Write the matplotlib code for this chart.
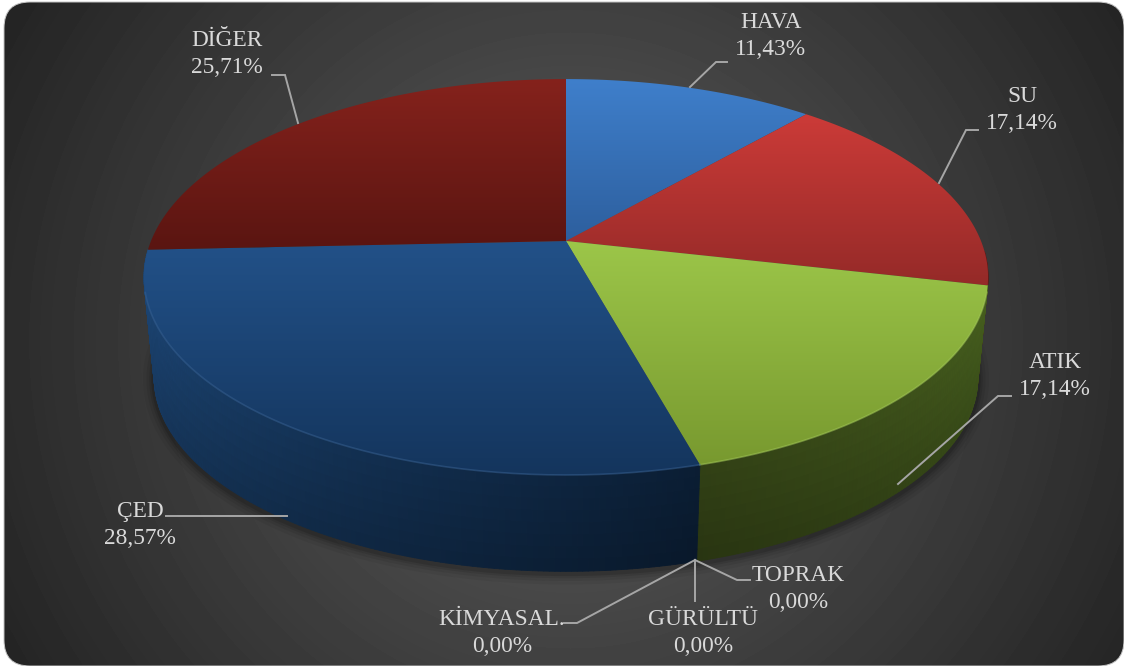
import numpy as np
from matplotlib import pyplot as plt
from matplotlib.colors import to_rgb
from matplotlib.patches import FancyBboxPatch, Polygon
from matplotlib.collections import PolyCollection

names = ["HAVA", "SU", "ATIK", "TOPRAK", "GÜRÜLTÜ", "KİMYASAL.", "ÇED", "DİĞER"]
values = [11.43, 17.14, 17.14, 0.0, 0.0, 0.0, 28.57, 25.71]

# colours of the top face (upper, lower) and of the wall (clockwise start, end)
top_colors = [("#3f7fcb", "#2d5f9e"), ("#cc3b38", "#952a28"), ("#9cc649", "#78992f"),
              ("#888888", "#888888"), ("#888888", "#888888"), ("#888888", "#888888"),
              ("#225188", "#14355d"), ("#85221c", "#5a1511")]
wall_colors = [("#1f3f66", "#1f3f66"), ("#5a1a18", "#5a1a18"), ("#445c1d", "#2f3d14"),
               ("#333333", "#333333"), ("#333333", "#333333"), ("#333333", "#333333"),
               ("#0a1c31", "#1d4777"), ("#4a100d", "#4a100d")]

# label centre in pixels and the leader line of every label
label_pos = [(771, 36), (1022, 110), (1055, 376), (798, 589), (703, 633), (502, 633), (140, 525), (227, 54)]
leaders = [[(727, 62), (716, 62), (690, 87)],
           [(978, 130), (966, 130), (939, 183)],
           [(1011, 396), (998, 396), (898, 484)],
           [(750, 580), (737, 580), (695, 560)],
           [(695, 601), (695, 560)],
           [(564, 623), (577, 623), (695, 560)],
           [(166, 516), (287, 516)],
           [(272, 75), (285, 75), (298, 123)]]

W, H = 1124, 666
CX, CY_TOP, CY_LOW = 566, 241, 342
A_TOP, B_TOP, A_LOW, B_LOW = 415, 191.4, 405, 187.6
K = 0.182


def project(t, r=1.0, low=False):
    # t is the clockwise angle from twelve o'clock, the disc is seen in perspective
    u = r * np.sin(t)
    v = -r * np.cos(t)
    d = 1 - K * v
    if low:
        return CX + A_LOW * u / d, CY_LOW + B_LOW * v / d
    return CX + A_TOP * u / d, CY_TOP + B_TOP * v / d


def mix(c1, c2, f):
    c1 = np.array(to_rgb(c1))
    c2 = np.array(to_rgb(c2))
    return c1 + (c2 - c1) * f


fig = plt.figure(figsize=(W / 100, H / 100), dpi=100, facecolor="white")
ax = fig.add_axes([0, 0, 1, 1])

# panel with the radial background
yy, xx = np.mgrid[0:H, 0:W]
r = np.clip(np.hypot(xx - 570, yy - 340) / 640, 0, 1)
im = ax.imshow(0.37 - 0.225 * r, cmap="gray", vmin=0, vmax=1, extent=(0, W, H, 0), aspect="auto", zorder=1)
panel = FancyBboxPatch((4, 2), W - 4, H - 2, boxstyle="round,pad=0,rounding_size=26",
                       fc="none", ec="#c4c4c4", lw=0.7, zorder=1.5)
ax.add_patch(panel)
im.set_clip_path(panel)

# soft shadow round the lower disc
ts = np.linspace(0, 2 * np.pi, 500)
lx, ly = project(ts, low=True)
for lw, alpha in [(16, 0.05), (11, 0.07), (7, 0.09), (4, 0.12)]:
    ax.plot(lx, ly + 2, color="black", lw=lw, alpha=alpha, zorder=2, solid_capstyle="round")

edges = np.cumsum([0] + values) / sum(values) * 2 * np.pi

# walls
quads = []
facecolors = []
for i in range(len(values)):
    if values[i] == 0:
        continue
    n = max(2, int((edges[i + 1] - edges[i]) * 90))
    angles = np.linspace(edges[i], edges[i + 1], n)
    for j in range(n - 1):
        if -np.cos(angles[j]) < 0.05 or -np.cos(angles[j + 1]) < 0.04:
            continue
        x0, y0 = project(angles[j])
        x1, y1 = project(angles[j + 1])
        x2, y2 = project(angles[j + 1], low=True)
        x3, y3 = project(angles[j], low=True)
        f = j / max(n - 2, 1)
        base = mix(wall_colors[i][0], wall_colors[i][1], f)
        for k in range(8):
            a, b = k / 8, (k + 1) / 8
            quads.append([(x0 + (x3 - x0) * a, y0 + (y3 - y0) * a),
                          (x1 + (x2 - x1) * a, y1 + (y2 - y1) * a),
                          (x1 + (x2 - x1) * b, y1 + (y2 - y1) * b),
                          (x0 + (x3 - x0) * b, y0 + (y3 - y0) * b)])
            facecolors.append(base * (1.05 - 0.2 * a))
ax.add_collection(PolyCollection(quads, facecolors=facecolors, edgecolors=facecolors, linewidths=0.6, zorder=3))

# top faces
for i in range(len(values)):
    if values[i] == 0:
        continue
    angles = np.linspace(edges[i], edges[i + 1], 160)
    px, py = project(angles)
    pts = np.column_stack([np.r_[CX, px], np.r_[CY_TOP, py]])
    poly = Polygon(pts, closed=True, fc="none", ec="none", zorder=4)
    ax.add_patch(poly)
    c1, c2 = top_colors[i]
    grad = np.array([mix(c1, c2, f) for f in np.linspace(0, 1, 200)])[:, None, :]
    g = ax.imshow(grad, extent=(pts[:, 0].min(), pts[:, 0].max(), pts[:, 1].max(), pts[:, 1].min()),
                  aspect="auto", zorder=4)
    g.set_clip_path(poly)
    # thin bevel light, only on the front of the rim
    front = -np.cos(angles) > 0.25
    if front.any():
        ax.plot(px[front], py[front], color=mix(c1, "white", 0.1), lw=1.2, alpha=0.5, zorder=4.5)

# labels and leaders
for i in range(len(names)):
    pts = np.array(leaders[i])
    ax.plot(pts[:, 0], pts[:, 1], color="#a6a6a6", lw=1.4, zorder=5, solid_joinstyle="miter")
    pct = ("%.2f%%" % values[i]).replace(".", ",")
    ax.text(label_pos[i][0], label_pos[i][1], names[i] + "\n" + pct, color="#d9d9d9", ha="center", va="center",
            family="Liberation Serif", fontsize=16.8, linespacing=1.42, zorder=6)

ax.set_xlim(0, W)
ax.set_ylim(H, 0)
ax.axis("off")
fig.savefig("out.png", dpi=100, facecolor="white")
